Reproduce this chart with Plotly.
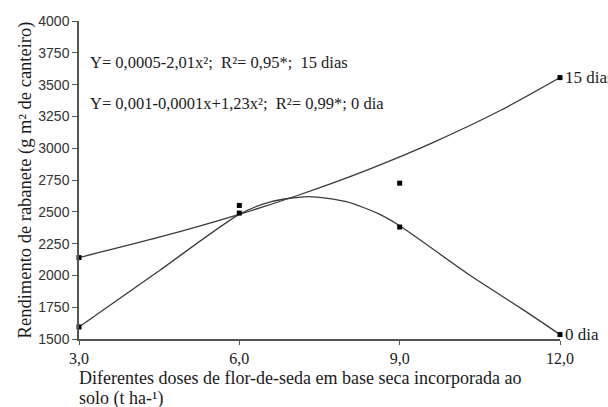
import plotly.graph_objects as go

# Observed data points
doses = [3.0, 6.0, 9.0, 12.0]
obs_15dias = [2140, 2550, 2725, 3555]
obs_0dia = [1595, 2490, 2380, 1535]

# Fitted curves
fit15_x = [3.0, 4.5, 6.0, 7.1, 8.4, 9.6, 10.9, 12.0]
fit15_y = [2140, 2300, 2480, 2630, 2830, 3040, 3300, 3555]
fit0_x = [3.0, 4.5, 6.0, 6.6, 7.3, 8.0, 8.6, 9.0, 10.3, 11.3, 12.0]
fit0_y = [1595, 2037, 2480, 2580, 2620, 2580, 2485, 2390, 2005, 1733, 1535]

y_ticks = [1500, 1750, 2000, 2250, 2500, 2750, 3000, 3250, 3500, 3750, 4000]
x_ticks = [3.0, 6.0, 9.0, 12.0]
x_ticklabels = ["3,0", "6,0", "9,0", "12,0"]

line_color = "#3a3a3a"
serif = "Liberation Serif"
txt = "#1a1a1a"

fig = go.Figure()
fig.add_trace(go.Scatter(x=fit15_x, y=fit15_y, mode="lines",
                         line=dict(color=line_color, width=1.3, shape="spline", smoothing=0.8),
                         hoverinfo="skip", cliponaxis=False))
fig.add_trace(go.Scatter(x=fit0_x, y=fit0_y, mode="lines",
                         line=dict(color=line_color, width=1.3, shape="spline", smoothing=0.7),
                         hoverinfo="skip", cliponaxis=False))
fig.add_trace(go.Scatter(x=doses, y=obs_15dias, mode="markers",
                         marker=dict(symbol="square", size=5, color="black"), cliponaxis=False))
fig.add_trace(go.Scatter(x=doses, y=obs_0dia, mode="markers",
                         marker=dict(symbol="square", size=5, color="black"), cliponaxis=False))

annotations = [
    dict(x=0.018, y=0.87, xref="paper", yref="paper", xanchor="left", yanchor="middle",
         text="Y= 0,0005-2,01x²;  R²= 0,95*;  15 dias", showarrow=False,
         font=dict(family=serif, size=16.5, color=txt)),
    dict(x=0.018, y=0.74, xref="paper", yref="paper", xanchor="left", yanchor="middle",
         text="Y= 0,001-0,0001x+1,23x²;  R²= 0,99*; 0 dia", showarrow=False,
         font=dict(family=serif, size=16.5, color=txt)),
    dict(x=12.0, y=obs_15dias[-1], xref="x", yref="y", xanchor="left", yanchor="middle",
         xshift=3, text="15 dias", showarrow=False,
         font=dict(family=serif, size=17, color=txt)),
    dict(x=12.0, y=obs_0dia[-1], xref="x", yref="y", xanchor="left", yanchor="middle",
         xshift=3, text="0 dia", showarrow=False,
         font=dict(family=serif, size=17, color=txt)),
    dict(x=-0.004, y=-0.124, xref="paper", yref="paper", xanchor="left", yanchor="middle",
         text="Diferentes doses de flor-de-seda em base seca incorporada ao",
         showarrow=False, font=dict(family=serif, size=18, color=txt)),
    dict(x=-0.004, y=-0.187, xref="paper", yref="paper", xanchor="left", yanchor="middle",
         text="solo (t ha-¹)",
         showarrow=False, font=dict(family=serif, size=18, color=txt)),
]

fig.update_layout(
    width=608, height=407,
    margin=dict(l=79, r=48, t=21, b=68),
    paper_bgcolor="white", plot_bgcolor="white",
    showlegend=False,
    annotations=annotations,
    xaxis=dict(range=[3, 12], tickvals=x_ticks, ticktext=x_ticklabels,
               showgrid=False, zeroline=False, showline=True, linecolor="#555", linewidth=1.5,
               ticks="outside", ticklen=4, tickcolor="#555",
               tickfont=dict(family=serif, size=16, color=txt)),
    yaxis=dict(range=[1500, 4000], tickvals=y_ticks,
               showgrid=False, zeroline=False, showline=True, linecolor="#555", linewidth=1.5,
               ticks="outside", ticklen=5, tickcolor="#555",
               tickfont=dict(family="Liberation Sans", size=14, color="#333"),
               title=dict(text="Rendimento de rabanete (g m² de canteiro)",
                          font=dict(family=serif, size=18.5, color=txt), standoff=2)),
)

fig.write_html("out.html")
